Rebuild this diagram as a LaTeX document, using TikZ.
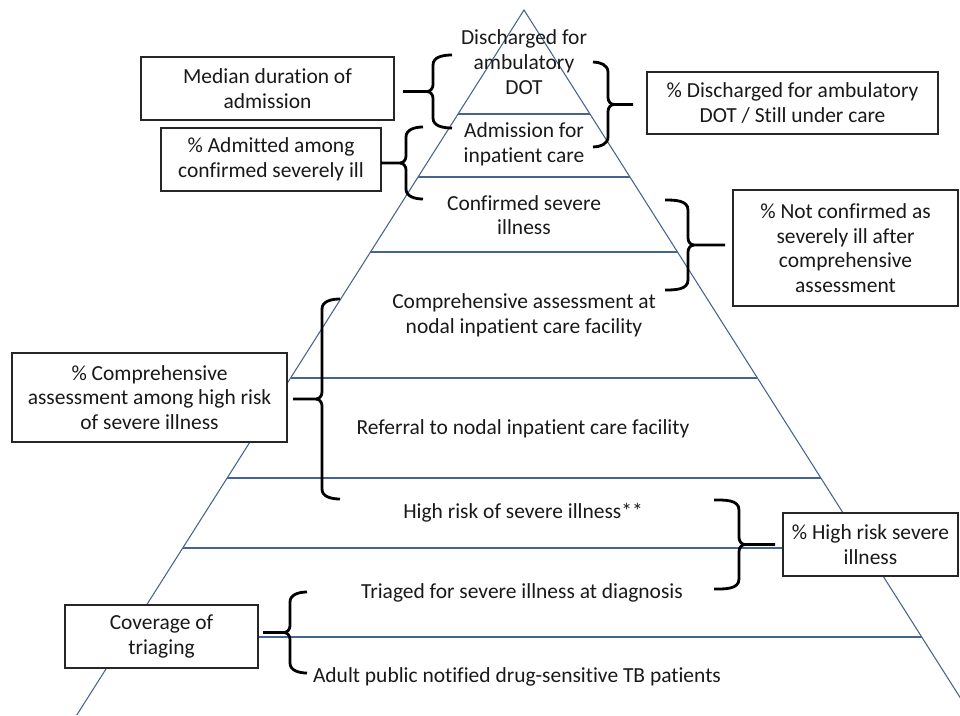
\documentclass[tikz,border=0pt]{standalone}
\usepackage{fontspec}
\setmainfont{Carlito}[Ligatures=NoCommon]
\usetikzlibrary{calc}
\definecolor{tierblue}{RGB}{70,100,145}
\newcommand\LeftBrc[5]{% #1 point x, #2 spine x, #3 tip x, #4 top y, #5 bottom y
  \pgfmathsetmacro\bm{(#4+#5)/2}
  \draw[brc] (#3,#4) to[out=180,in=90] (#2,#4+10) -- (#2,\bm-7) to[out=-90,in=0] (#2-6,\bm) -- (#1,\bm);
  \draw[brc] (#2-6,\bm) to[out=0,in=90] (#2,\bm+7) -- (#2,#5-10) to[out=-90,in=180] (#3,#5);
}
\newcommand\RightBrc[5]{% #1 point x, #2 spine x, #3 tip x, #4 top y, #5 bottom y
  \pgfmathsetmacro\bm{(#4+#5)/2}
  \draw[brc] (#3,#4) to[out=0,in=90] (#2,#4+10) -- (#2,\bm-7) to[out=-90,in=180] (#2+6,\bm) -- (#1,\bm);
  \draw[brc] (#2+6,\bm) to[out=180,in=90] (#2,\bm+7) -- (#2,#5-10) to[out=-90,in=0] (#3,#5);
}
\begin{document}
\begin{tikzpicture}[x=0.75pt,y=-0.75pt,
  tier/.style={draw=tierblue,line width=0.8pt},
  txt/.style={font=\fontsize{16.1}{18.5}\selectfont,text=black!90},
  box/.style={txt,draw=black!85,line width=0.8pt,fill=white,align=center,inner sep=0pt},
  lbl/.style={txt,align=center,inner sep=0pt},
  brc/.style={draw=black,line width=2.1pt}]
\useasboundingbox (0,0) rectangle (960,715);
\clip (0,0) rectangle (960,715);
% pyramid
\coordinate (apex) at (524,10);
\coordinate (bl) at (76.8,715);
\coordinate (br) at (971.2,715);
\draw[tier] (bl) -- (apex) -- (br);
\foreach \y in {114,177,252,378,478,548,637}
  \draw[tier] ($(apex)!{(\y-10)/705}!(bl)$) -- ($(apex)!{(\y-10)/705}!(br)$);
% tier labels
\node[lbl] (t1) at (524,62) {Discharged for\\ambulatory\\DOT};
\node[lbl] (t2) at (524,144.5) {Admission for\\inpatient care};
\node[lbl] (t3) at (524,215) {Confirmed severe\\illness};
\node[lbl] (t4) at (524,315) {Comprehensive assessment at\\nodal inpatient care facility};
\node[lbl] (t5) at (523,429) {Referral to nodal inpatient care facility};
\node[lbl] (t6) at (523,513) {High risk of severe illness**};
\node[lbl] (t7) at (522,593) {Triaged for severe illness at diagnosis};
\node[lbl] (t8) at (517,677) {Adult public notified drug-sensitive TB patients};
% boxes
\node[box,minimum width=189.75pt,minimum height=47.25pt] (b1) at (267.5,88.5) {Median duration of\\admission};
\node[box,minimum width=165pt,minimum height=47.25pt] (b2) at (271,159.5) {\% Admitted among\\confirmed severely ill};
\node[box,minimum width=218.25pt,minimum height=46.5pt] (b3) at (792.5,103) {\% Discharged for ambulatory\\DOT / Still under care};
\node[box,minimum width=168.75pt,minimum height=87pt] (b4) at (845.5,248) {\% Not confirmed as\\severely ill after\\comprehensive\\assessment};
\node[box,minimum width=206.25pt,minimum height=66.75pt] (b5) at (149.5,397.5) {\% Comprehensive\\assessment among high risk\\of severe illness};
\node[box,minimum width=144.75pt,minimum height=47.25pt] (b6) at (161.5,636.5) {Coverage of\\triaging};
\node[box,minimum width=131.25pt,minimum height=47.25pt] (b7) at (870.5,544.5) {\% High risk severe\\illness};
% braces
\LeftBrc{403}{433}{452}{55}{128}
\LeftBrc{381}{406}{423}{127}{199}
\RightBrc{633}{608}{593}{62}{147}
\RightBrc{725}{688}{665}{200}{290}
\LeftBrc{293}{322}{340}{299}{499}
\LeftBrc{263}{290}{307}{592}{673}
\RightBrc{775}{739}{714}{500}{589}
\end{tikzpicture}
\end{document}
